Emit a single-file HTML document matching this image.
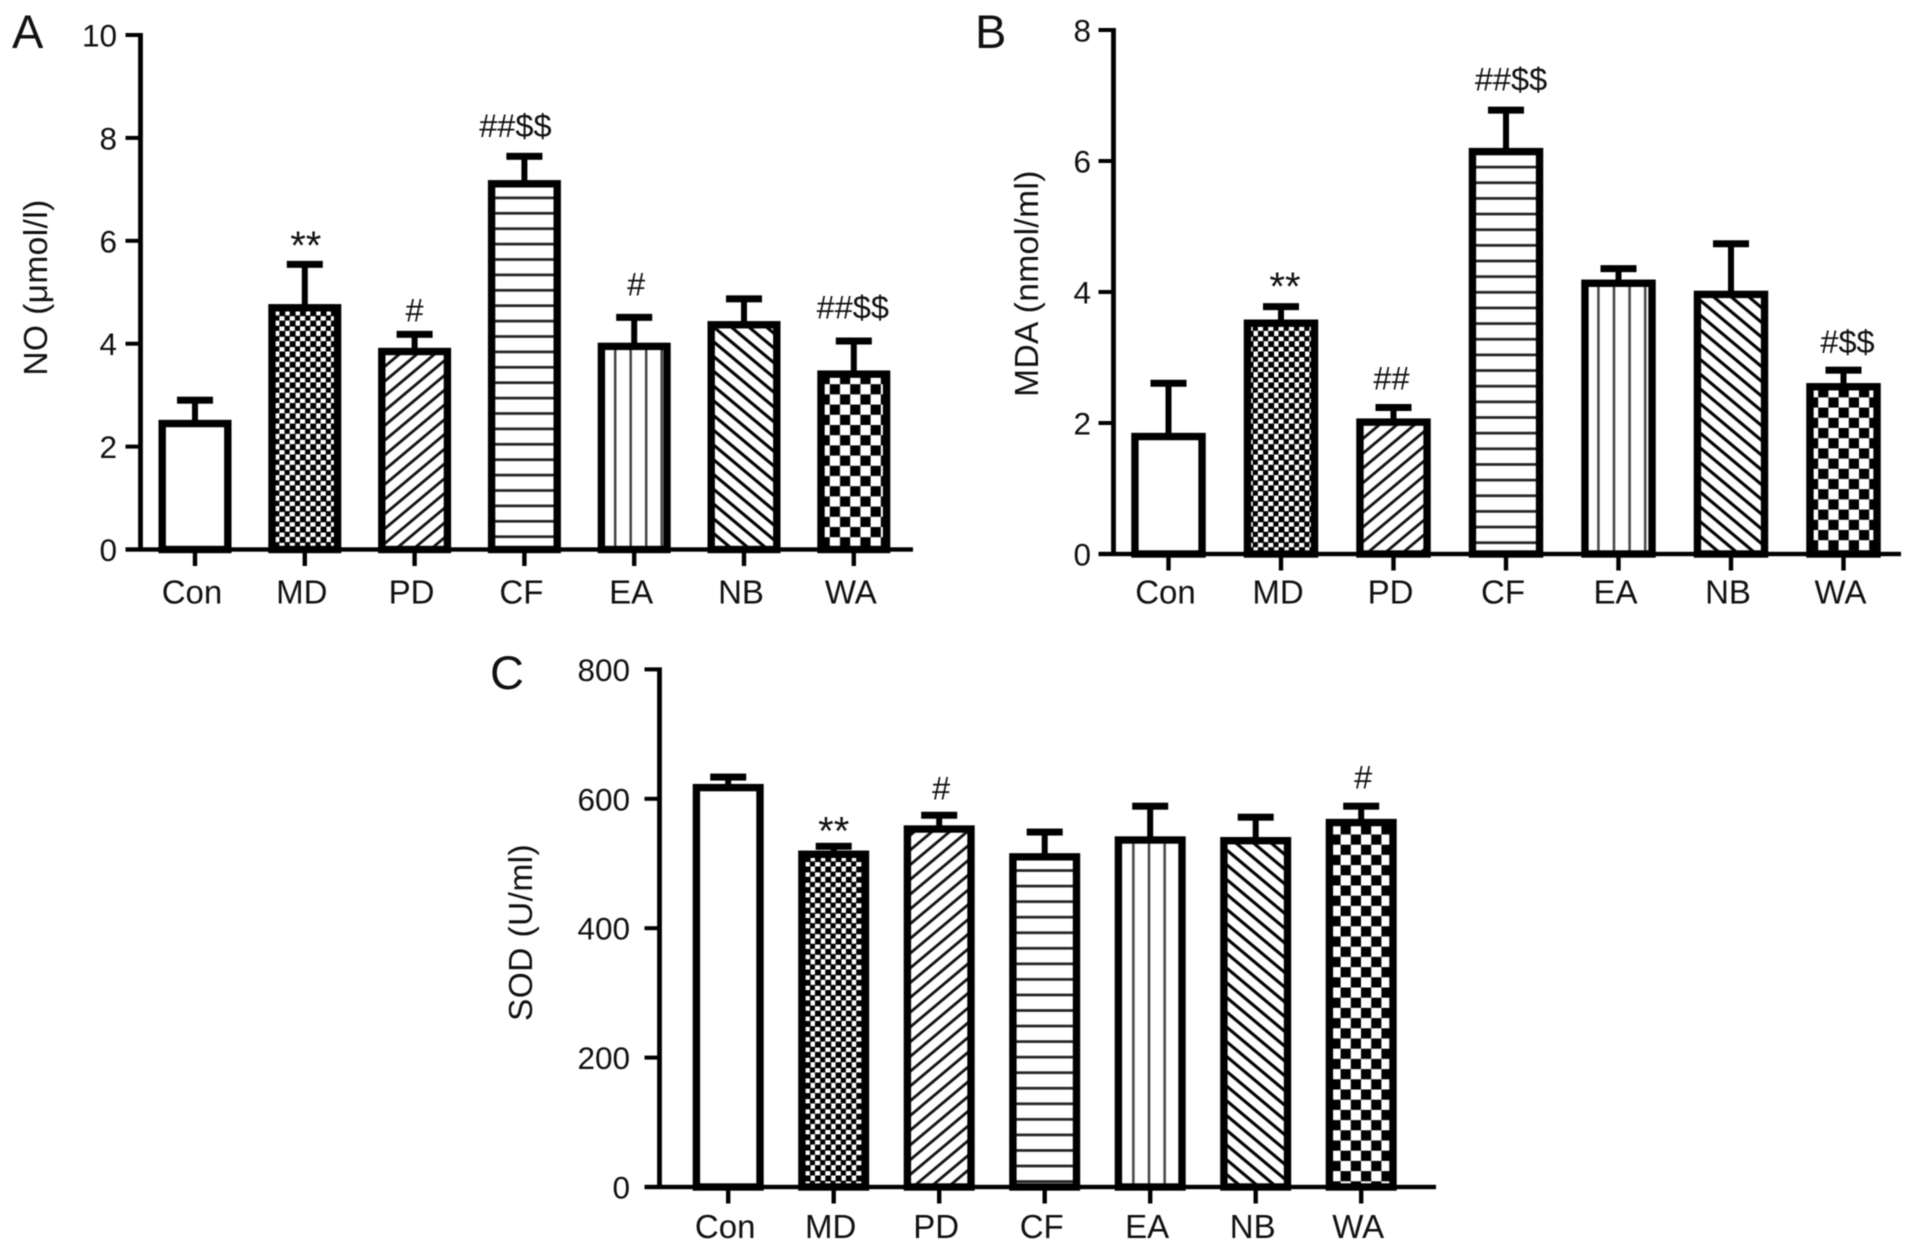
<!DOCTYPE html>
<html lang="en">
<head>
<meta charset="utf-8">
<title>NO, MDA and SOD levels by group</title>
<style>
  html, body { margin: 0; padding: 0; background: #fff; }
  body { width: 1913px; height: 1252px; overflow: hidden; }
  svg { display: block; filter: blur(0.55px); }
  text { font-family: "Liberation Sans", "DejaVu Sans", sans-serif; fill: #111; }
</style>
</head>
<body>
<svg id="figure" xmlns="http://www.w3.org/2000/svg" width="1913" height="1252" viewBox="0 0 1913 1252">
  <rect x="0" y="0" width="1913" height="1252" fill="#fff"></rect>
  <defs id="pattern-defs"></defs>
</svg>
<script>
// ---- Data ----
const categories = ['Con', 'MD', 'PD', 'CF', 'EA', 'NB', 'WA'];

const noMeans = [2.52, 4.77, 3.92, 7.18, 4.02, 4.44, 3.48];
const noErrors = [0.45, 0.84, 0.33, 0.53, 0.56, 0.50, 0.64];
const noTicks = [0, 2, 4, 6, 8, 10];
const noMarks = ['', '**', '#', '##$$', '#', '', '##$$'];

const mdaMeans = [1.85, 3.58, 2.07, 6.20, 4.19, 4.02, 2.61];
const mdaErrors = [0.81, 0.25, 0.22, 0.63, 0.22, 0.77, 0.25];
const mdaTicks = [0, 2, 4, 6, 8];
const mdaMarks = ['', '**', '##', '##$$', '', '', '#$$'];

const sodMeans = [623, 520, 559, 516, 542, 541, 569];
const sodErrors = [16, 12, 21, 38, 52, 36, 25];
const sodTicks = [0, 200, 400, 600, 800];
const sodMarks = ['', '**', '#', '', '', '', '#'];

// ---- Layout of each panel (not data) ----
const panelA = {
  key: 'no', letter: 'A', letterX: 12, letterY: 48, title: 'NO (\u03BCmol/l)', titleX: 47, titleY: 287.5,
  axisX: 140.5, zeroY: 549.5, topY: 35, max: 10, firstX: 195, stepX: 109.8, axisEnd: 913,
  barW: 73, labelY: 603.5, tickLabelX: 117,
  means: noMeans, errors: noErrors, ticks: noTicks, marks: noMarks,
  markGaps: [0, 2, 9.5, 16, 18.5, 0, 19], markShift: [0, 1, 0, -9, 2, 0, -1],
  hLine: 536.7, hPeriod: 15.4, vLine: 630.7, vPeriod: 15.5, check: [855.3, 389.3], fine: [300, 300], pdShift: 0, nbShift: 3
};
const panelB = {
  key: 'mda', letter: 'B', letterX: 975, letterY: 48, title: 'MDA (nmol/ml)', titleX: 1038, titleY: 283.5,
  axisX: 1113.5, zeroY: 554, topY: 30, max: 8, firstX: 1168.5, stepX: 112.5, axisEnd: 1901,
  barW: 74.5, labelY: 603.5, tickLabelX: 1091,
  means: mdaMeans, errors: mdaErrors, ticks: mdaTicks, marks: mdaMarks,
  markGaps: [0, 3, 14.5, 16, 0, 0, 13.5], markShift: [0, 4, -2, 5, 0, 0, 4],
  hLine: 542.7, hPeriod: 15.65, vLine: 1614, vPeriod: 15.6, check: [1823.3, 412.7], fine: [300, 300], pdShift: 4, nbShift: 7
};
const panelC = {
  key: 'sod', letter: 'C', letterX: 490, letterY: 689, title: 'SOD (U/ml)', titleX: 532, titleY: 932.5,
  axisX: 659.5, zeroY: 1187, topY: 669.4, max: 800, firstX: 728.2, stepX: 105.5, axisEnd: 1436,
  barW: 71, labelY: 1238, tickLabelX: 630,
  means: sodMeans, errors: sodErrors, ticks: sodTicks, marks: sodMarks,
  markGaps: [0, -1.5, 12, 0, 0, 0, 14], markShift: [0, 0, 2, 0, 0, 0, 2],
  hLine: 1166, hPeriod: 15.55, vLine: 1149, vPeriod: 15.67, check: [1345.7, 911], fine: [300, 300], pdShift: 8, nbShift: 2
};

const SVG_NS = 'http://www.w3.org/2000/svg';
const svg = document.getElementById('figure');
const defs = document.getElementById('pattern-defs');

function make(tag, attrs, parent, text) {
  const el = document.createElementNS(SVG_NS, tag);
  for (const k in attrs) el.setAttribute(k, attrs[k]);
  if (text !== undefined) el.textContent = text;
  if (parent) parent.appendChild(el);
  return el;
}

function buildPatterns(p) {
  const barStyle = ['none', 'fine', 'up', 'h', 'v', 'down', 'check'];
  const id = s => p.key + '-' + s;

  // fine checker (MD)
  const fineCell = 5.15;
  const fine = make('pattern', { id: id('fine'), patternUnits: 'userSpaceOnUse', width: fineCell * 2, height: fineCell * 2,
    patternTransform: 'translate(' + p.fine[0] + ' ' + p.fine[1] + ')' }, defs);
  make('rect', { x: 0, y: 0, width: fineCell * 2, height: fineCell * 2, fill: '#fff' }, fine);
  make('rect', { x: 0, y: 0, width: fineCell * 1.15, height: fineCell * 1.15, fill: '#000' }, fine);
  make('rect', { x: fineCell, y: fineCell, width: fineCell * 1.15, height: fineCell * 1.15, fill: '#000' }, fine);

  // rising diagonal (PD)
  const diagPeriod = 11.3;
  const up = make('pattern', { id: id('up'), patternUnits: 'userSpaceOnUse', width: diagPeriod, height: diagPeriod,
    patternTransform: 'translate(' + (p.pdShift) + ' ' + p.zeroY + ') rotate(-40)' }, defs);
  make('rect', { x: 0, y: 0, width: diagPeriod, height: diagPeriod, fill: '#fff' }, up);
  make('rect', { x: 0, y: 4, width: diagPeriod, height: 2.8, fill: '#111' }, up);

  // falling diagonal (NB)
  const down = make('pattern', { id: id('down'), patternUnits: 'userSpaceOnUse', width: diagPeriod, height: diagPeriod,
    patternTransform: 'translate(' + (p.nbShift) + ' ' + p.zeroY + ') rotate(40)' }, defs);
  make('rect', { x: 0, y: 0, width: diagPeriod, height: diagPeriod, fill: '#fff' }, down);
  make('rect', { x: 0, y: 4, width: diagPeriod, height: 3.1, fill: '#000' }, down);

  // horizontal lines (CF)
  const h = make('pattern', { id: id('h'), patternUnits: 'userSpaceOnUse', width: 20, height: p.hPeriod,
    patternTransform: 'translate(0 ' + (p.hLine - p.hPeriod / 2) + ')' }, defs);
  make('rect', { x: 0, y: 0, width: 20, height: p.hPeriod, fill: '#fff' }, h);
  make('rect', { x: 0, y: p.hPeriod / 2 - 1.35, width: 20, height: 2.7, fill: '#222' }, h);

  // vertical lines (EA)
  const v = make('pattern', { id: id('v'), patternUnits: 'userSpaceOnUse', width: p.vPeriod, height: 20,
    patternTransform: 'translate(' + (p.vLine - p.vPeriod / 2) + ' 0)' }, defs);
  make('rect', { x: 0, y: 0, width: p.vPeriod, height: 20, fill: '#fff' }, v);
  make('rect', { x: p.vPeriod / 2 - 1.25, y: 0, width: 2.5, height: 20, fill: '#444' }, v);

  // coarse checker (WA)
  const cell = 10.2;
  const check = make('pattern', { id: id('check'), patternUnits: 'userSpaceOnUse', width: cell * 2, height: cell * 2,
    patternTransform: 'translate(' + (p.check[0] - cell / 2) + ' ' + (p.check[1] - cell / 2) + ')' }, defs);
  make('rect', { x: 0, y: 0, width: cell * 2, height: cell * 2, fill: '#fff' }, check);
  make('rect', { x: 0, y: 0, width: cell, height: cell, fill: '#000' }, check);
  make('rect', { x: cell, y: cell, width: cell, height: cell, fill: '#000' }, check);

  return barStyle.map(s => s === 'none' ? '#fff' : 'url(#' + id(s) + ')');
}

function drawPanel(p) {
  const fills = buildPatterns(p);
  const yScale = v => p.zeroY - (v / p.max) * (p.zeroY - p.topY);
  const xScale = i => p.firstX + i * p.stepX;
  const sw = 7.4;

  const g = make('g', {}, svg);
  
  

  const letter = make('text', { x: p.letterX, y: p.letterY, 'font-size': 47 }, g, p.letter);
  
  

  const title = make('text', { x: 0, y: 0, 'font-size': 33.5, 'letter-spacing': 0.4, 'text-anchor': 'middle',
    transform: 'translate(' + p.titleX + ' ' + p.titleY + ') rotate(-90)' }, g, p.title);
  
  

  // bars and error bars
  categories.forEach((cat, i) => {
    const cx = xScale(i);
    const top = yScale(p.means[i]);
    const capTop = yScale(p.means[i] + p.errors[i]);

    const stem = make('rect', { x: cx - 3, y: capTop + 2, width: 6, height: Math.max(0, top - capTop), fill: '#000' }, g);
    
    

    const cap = make('rect', { x: cx - 18, y: capTop, width: 36, height: 7, fill: '#000' }, g);
    
    

    const bar = make('rect', { x: cx - p.barW / 2 + sw / 2, y: top + sw / 2,
      width: p.barW - sw, height: Math.max(0, p.zeroY - top - sw / 2),
      fill: fills[i], stroke: '#000', 'stroke-width': sw }, g);
    
    

    const tick = make('rect', { x: cx - 2.2, y: p.zeroY, width: 4.4, height: 16.5, fill: '#000' }, g);
    
    

    const label = make('text', { x: cx - 3, y: p.labelY, 'font-size': 33, 'text-anchor': 'middle' }, g, cat);
    
    

    if (p.marks[i]) {
      const isStar = p.marks[i].indexOf('*') >= 0;
      const mark = make('text', { x: cx + p.markShift[i], y: capTop - p.markGaps[i],
        'font-size': isStar ? 40 : 32.5, 'text-anchor': 'middle' }, g, p.marks[i]);
      
      
    }
  });

  // axes
  const yAxis = make('rect', { x: p.axisX - 2.4, y: p.topY - 2, width: 4.8, height: p.zeroY - p.topY + 4, fill: '#000' }, g);
  
  

  const xAxis = make('rect', { x: p.axisX - 15, y: p.zeroY - 2.2, width: p.axisEnd - p.axisX + 15, height: 4.4, fill: '#000' }, g);
  
  

  p.ticks.forEach(t => {
    const y = yScale(t);
    const tick = make('rect', { x: p.axisX - 15, y: y - 2, width: 15, height: 4, fill: '#000' }, g);
    
    

    const label = make('text', { x: p.tickLabelX, y: y + 11.5, 'font-size': 31.5, 'text-anchor': 'end' }, g, String(t));
    
    
  });
}

drawPanel(panelA);
drawPanel(panelB);
drawPanel(panelC);
</script>
</body>
</html>
